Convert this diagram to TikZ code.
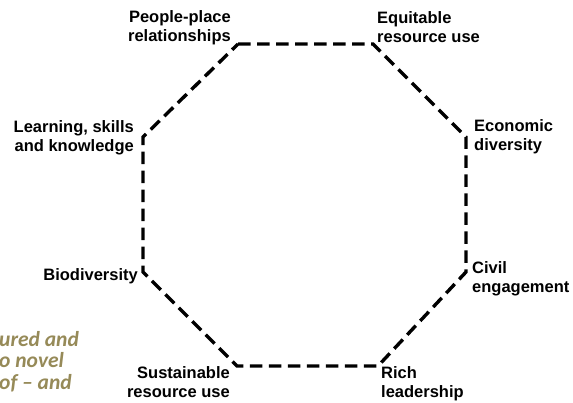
\documentclass[tikz,border=0pt]{standalone}
\usepackage{fontspec}
\setmainfont{Liberation Sans}
\newfontfamily\carl{Carlito}
\definecolor{olivetext}{RGB}{150,138,88}
\begin{document}
\begin{tikzpicture}[x=1pt,y=-1pt,
  lbl/.style={font=\bfseries\fontsize{16.5}{18.5}\selectfont, inner sep=0pt},
  side/.style={line width=3.4pt, dash pattern=on 12.5pt off 6.5pt, line join=miter},
  bgtext/.style={font=\carl\bfseries\itshape\fontsize{21.5}{22}\selectfont, text=olivetext, inner sep=0pt, anchor=base west}]
\useasboundingbox (0,0) rectangle (573,402);
\clip (0,0) rectangle (573,402);
% octagon vertices
\coordinate (v1) at (238,44);
\coordinate (v2) at (373,44);
\coordinate (v3) at (466,137);
\coordinate (v4) at (466,272);
\coordinate (v5) at (378,366);
\coordinate (v6) at (237,366);
\coordinate (v7) at (143,272);
\coordinate (v8) at (143,137);
\draw[side] (v1) -- (v2) -- (v3) -- (v4) -- (v5) -- (v6) -- (v7) -- (v8) -- cycle;
% background cut-off text
\node[bgtext] (b1) at (-1,346) {ured and};
\node[bgtext] (b2) at (-1,367) {o novel};
\node[bgtext] (b3) at (-1,389) {of – and};
% labels (anchor = baseline of last line)
\node[lbl, align=right, anchor=base east] (l1) at (231,41) {People-place\\relationships};
\node[lbl, align=left, anchor=base west] (l2) at (377,42) {Equitable\\resource use};
\node[lbl, align=right, anchor=base east] (l3) at (134,151) {Learning, skills\\and knowledge};
\node[lbl, align=left, anchor=base west] (l4) at (474,150) {Economic\\diversity};
\node[lbl, anchor=base east] (l5) at (138,280) {Biodiversity};
\node[lbl, align=left, anchor=base west] (l6) at (472,292) {Civil\\engagement};
\node[lbl, align=right, anchor=base east] (l7) at (230,397) {Sustainable\\resource use};
\node[lbl, align=left, anchor=base west] (l8) at (381,397) {Rich\\leadership};
\end{tikzpicture}
\end{document}
